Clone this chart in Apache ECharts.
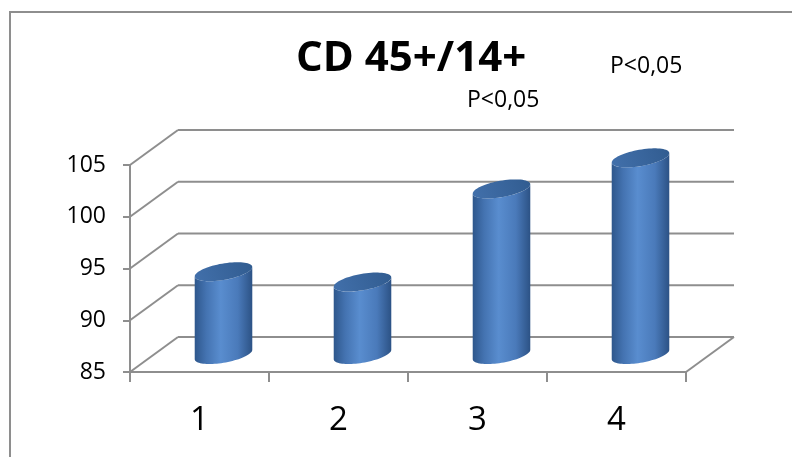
<!DOCTYPE html>
<html>
<head>
<meta charset="utf-8">
<style>
  html, body { margin: 0; padding: 0; background: #ffffff; }
  #chart { width: 792px; height: 457px; }
</style>
<script src="https://cdn.jsdelivr.net/npm/echarts@6/dist/echarts.min.js"></script>
</head>
<body>
<div id="chart"></div>
<script>
// Chart data
const categories = ['1', '2', '3', '4'];
const cd45cd14 = [93, 92, 101, 104];
const yTicks = [85, 90, 95, 100, 105];
const titleText = 'CD 45+/14+';
const pNotes = ['P<0,05', 'P<0,05'];

// Oblique "3D" projection: offset of the back wall relative to the front plane
const DEPTH_DX = 48;
const DEPTH_DY = -35;
const TILT = -10 * Math.PI / 180;
const GRID_COLOR = '#8e8e8e';
const FONT = '"Open Sans", "Noto Sans", sans-serif';

const chart = echarts.init(document.getElementById('chart'), null, { renderer: 'canvas' });

// Point on a tilted ellipse (cylinder cap seen in perspective)
function ellipsePoint(cx, cy, rx, ry, t) {
  const c = Math.cos(t), s = Math.sin(t);
  return [
    cx + rx * c * Math.cos(TILT) - ry * s * Math.sin(TILT),
    cy + rx * c * Math.sin(TILT) + ry * s * Math.cos(TILT)
  ];
}
function arc(cx, cy, rx, ry, t1, t2, n) {
  const pts = [];
  for (let i = 0; i <= n; i++) {
    pts.push(ellipsePoint(cx, cy, rx, ry, t1 + (t2 - t1) * i / n));
  }
  return pts;
}

// Back wall gridlines, side-wall diagonals and floor edge
function renderWalls(params, api) {
  const cs = params.coordSys;
  const v = api.value(1);
  const y = api.coord([0, v])[1];
  const left = cs.x, right = cs.x + cs.width;
  const lineStyle = { stroke: GRID_COLOR, lineWidth: 2 };
  const children = [
    { type: 'line', shape: { x1: left + DEPTH_DX, y1: y + DEPTH_DY, x2: right + DEPTH_DX, y2: y + DEPTH_DY }, style: lineStyle },
    { type: 'line', shape: { x1: left, y1: y, x2: left + DEPTH_DX, y2: y + DEPTH_DY }, style: lineStyle }
  ];
  if (params.dataIndex === 0) {
    children.push({ type: 'line', shape: { x1: right, y1: y, x2: right + DEPTH_DX, y2: y + DEPTH_DY }, style: lineStyle });
  }
  return { type: 'group', children: children };
}

// Cylinder bars standing in the middle of the floor depth
function renderCylinder(params, api) {
  const idx = api.value(0);
  const val = api.value(1);
  const base = api.coord([idx, yTicks[0]]);
  const top = api.coord([idx, val]);
  const bandW = api.size([1, 0])[0];
  const rx = bandW * 0.21;
  const ry = rx * 0.28;
  const cx = base[0] + DEPTH_DX / 2;
  const by = base[1] + DEPTH_DY / 2;
  const ty = top[1] + DEPTH_DY / 2;
  const t0 = Math.atan2(-ry * Math.sin(TILT), rx * Math.cos(TILT));
  const bodyPts = arc(cx, by, rx, ry, t0, t0 + Math.PI, 40)
    .concat(arc(cx, ty, rx, ry, t0 + Math.PI, t0, 40));
  const capPts = arc(cx, ty, rx, ry, 0, Math.PI * 2, 72);
  return {
    type: 'group',
    children: [
      {
        type: 'polygon',
        shape: { points: bodyPts },
        style: {
          fill: new echarts.graphic.LinearGradient(0, 0, 1, 0, [
            { offset: 0, color: '#2e578c' },
            { offset: 0.2, color: '#4473b1' },
            { offset: 0.45, color: '#598dcf' },
            { offset: 0.75, color: '#4a7aba' },
            { offset: 1, color: '#2c5285' }
          ])
        }
      },
      {
        type: 'polygon',
        shape: { points: capPts },
        style: {
          fill: new echarts.graphic.LinearGradient(0, 1, 1, 0, [
            { offset: 0, color: '#4270ab' },
            { offset: 1, color: '#315c90' }
          ])
        }
      }
    ]
  };
}

const option = {
  animation: false,
  backgroundColor: '#ffffff',
  title: {
    text: titleText,
    left: 291,
    top: 33,
    textStyle: { fontFamily: FONT, fontSize: 42, fontWeight: 'bold', color: '#000000' }
  },
  grid: { left: 130, right: 106, top: 165, bottom: 85, containLabel: false },
  xAxis: {
    type: 'category',
    data: categories,
    axisLine: { show: true, lineStyle: { color: GRID_COLOR, width: 2 } },
    axisTick: { show: true, length: 10, lineStyle: { color: GRID_COLOR, width: 2 } },
    axisLabel: { fontFamily: FONT, fontSize: 33, color: '#000000', margin: 32 },
    splitLine: { show: false }
  },
  yAxis: {
    type: 'value',
    min: 85,
    max: 105,
    interval: 5,
    axisLine: { show: true, lineStyle: { color: GRID_COLOR, width: 2 } },
    axisTick: { show: true, length: 7, lineStyle: { color: GRID_COLOR, width: 2 } },
    axisLabel: { fontFamily: FONT, fontSize: 23, color: '#000000', margin: 24 },
    splitLine: { show: false }
  },
  graphic: [
    {
      type: 'rect',
      shape: { x: 10, y: 12, width: 800, height: 460 },
      style: { fill: 'none', stroke: GRID_COLOR, lineWidth: 2 },
      silent: true
    },
    {
      type: 'text', left: 610, top: 55,
      style: { text: pNotes[0], fontFamily: FONT, fontSize: 23, fill: '#000000' }
    },
    {
      type: 'text', left: 467, top: 89,
      style: { text: pNotes[1], fontFamily: FONT, fontSize: 23, fill: '#000000' }
    }
  ],
  series: [
    {
      type: 'custom',
      name: 'walls',
      silent: true,
      clip: false,
      renderItem: renderWalls,
      encode: { x: 0, y: 1 },
      data: yTicks.map(v => [0, v]),
      z: 1
    },
    {
      type: 'custom',
      name: 'CD 45+/14+',
      silent: true,
      clip: false,
      renderItem: renderCylinder,
      encode: { x: 0, y: 1 },
      data: cd45cd14.map((v, i) => [i, v]),
      z: 2
    }
  ]
};

chart.setOption(option);
</script>
</body>
</html>
